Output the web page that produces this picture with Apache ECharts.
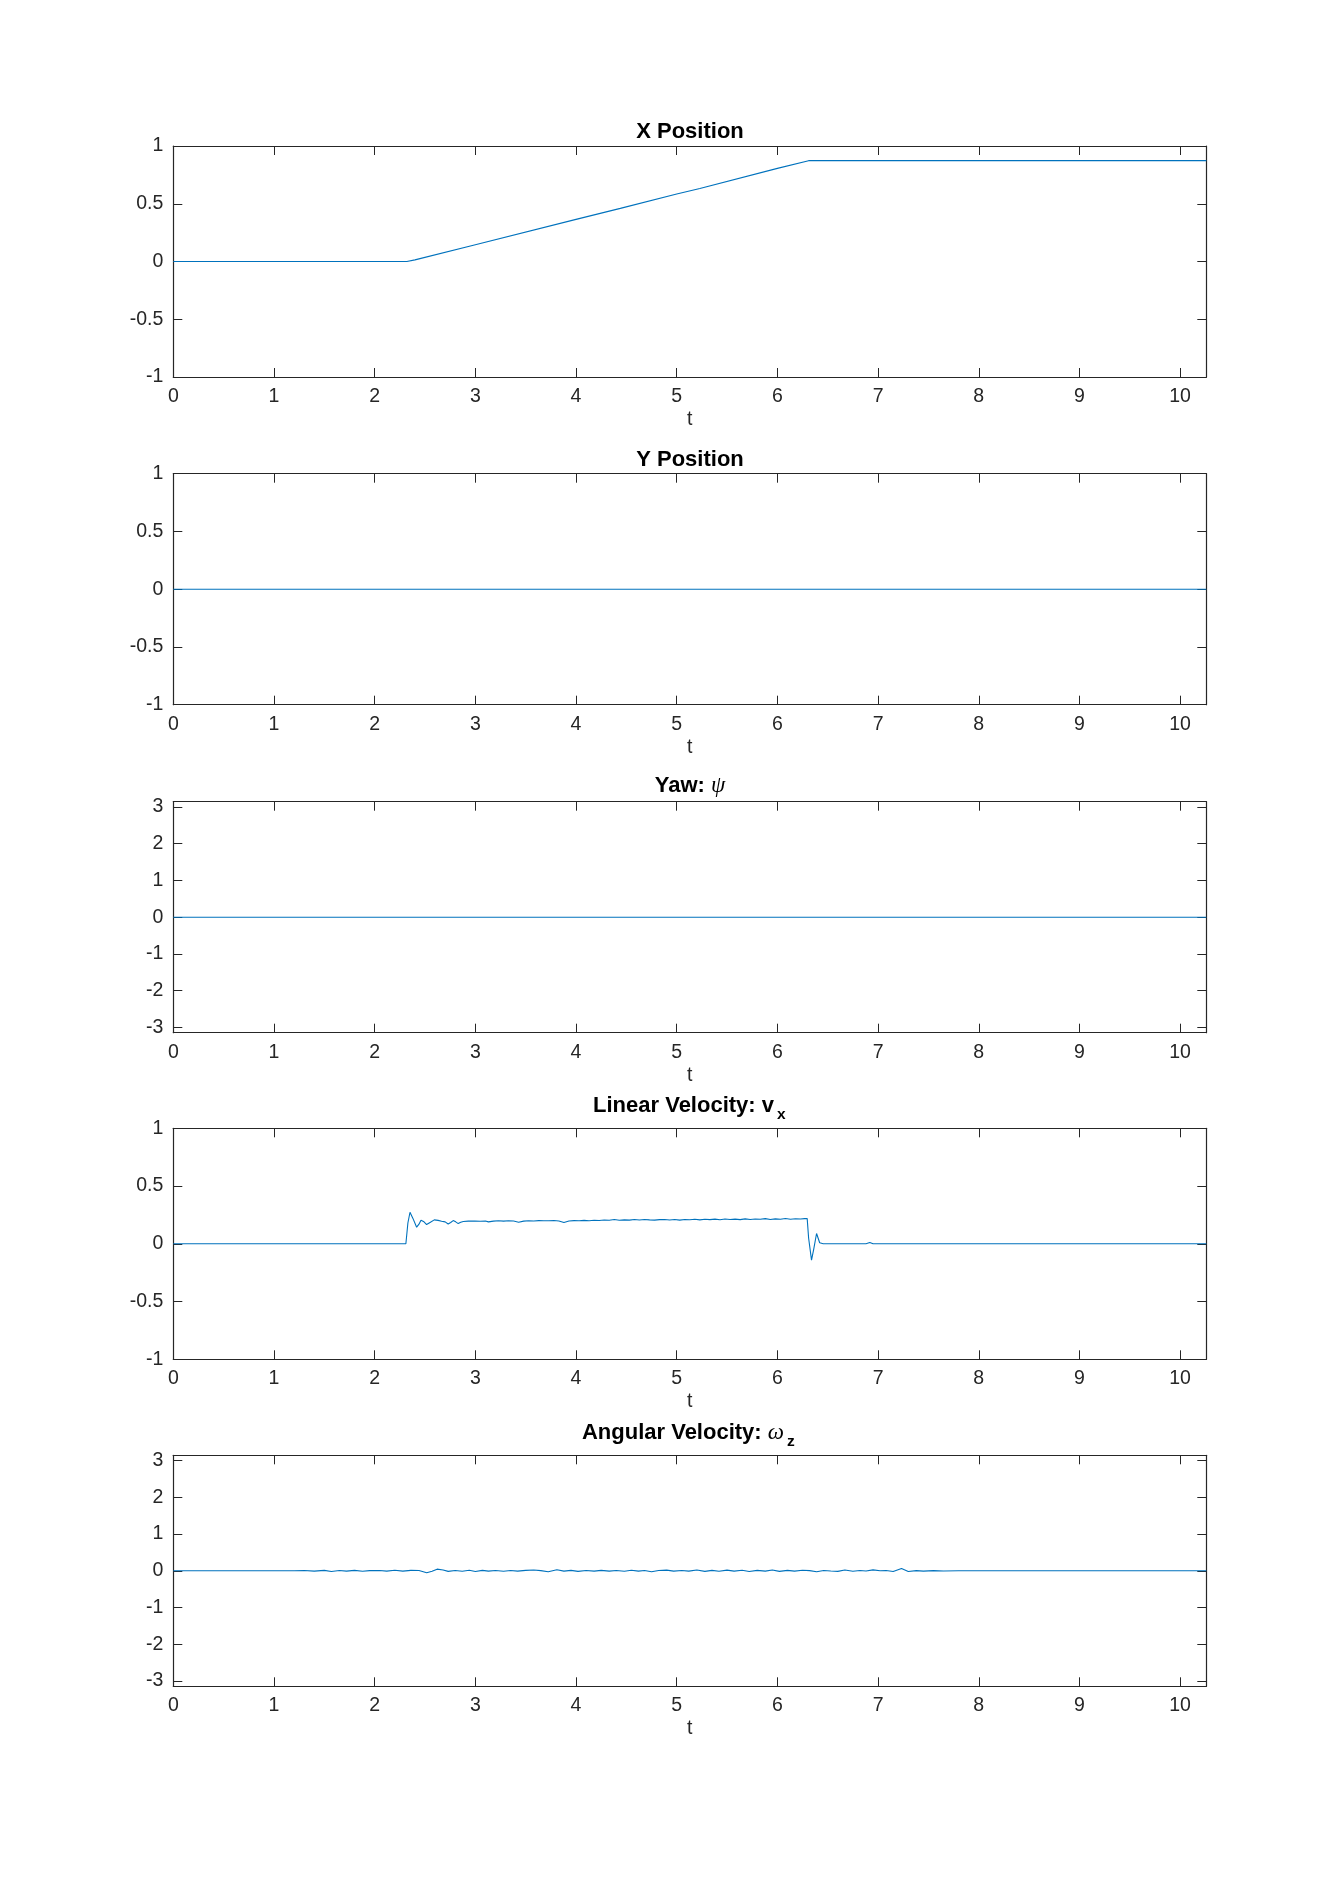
<!DOCTYPE html>
<html>
<head>
<meta charset="utf-8">
<script src="https://cdn.jsdelivr.net/npm/echarts@6/dist/echarts.min.js"></script>
<style>
html,body{margin:0;padding:0;background:#fff;}
#chart{width:1334px;height:1894px;}
</style>
</head>
<body>
<div id="chart"></div>
<script>
// ---------------- data ----------------
const tMax = 10.26;
const xTicks = [0, 1, 2, 3, 4, 5, 6, 7, 8, 9, 10];
const unitTicks = [-1, -0.5, 0, 0.5, 1];
const angleTicks = [-3, -2, -1, 0, 1, 2, 3];

const xPosData = [[0, 0], [2.32, 0], [2.4, 0.014], [3, 0.145], [4, 0.365], [4.44, 0.46], [5, 0.585], [5.23, 0.632], [6, 0.806], [6.31, 0.873], [10.26, 0.873]];
const yPosData = [[0, 0], [10.26, 0]];
const yawData = [[0, 0], [10.26, 0]];

const vxData = [
  [0, 0], [2.31, 0], [2.33, 0.18], [2.351, 0.273], [2.38, 0.22], [2.417, 0.144], [2.44, 0.17], [2.46, 0.204],
  [2.49, 0.19], [2.516, 0.167], [2.55, 0.185], [2.592, 0.207], [2.63, 0.203], [2.665, 0.195], [2.70, 0.19],
  [2.73, 0.172], [2.755, 0.185], [2.78, 0.201], [2.805, 0.19], [2.83, 0.175], [2.855, 0.186], [2.88, 0.193],
  [2.93, 0.196], [2.995, 0.198], [3.05, 0.195], [3.10, 0.197], [3.13, 0.19], [3.18, 0.196], [3.23, 0.199],
  [3.28, 0.196], [3.33, 0.2], [3.38, 0.197], [3.43, 0.187], [3.48, 0.196], [3.53, 0.2], [3.58, 0.198],
  [3.63, 0.201], [3.68, 0.199], [3.73, 0.2], [3.78, 0.202], [3.83, 0.198], [3.88, 0.184], [3.93, 0.198],
  [3.98, 0.201], [4.03, 0.2], [4.08, 0.203], [4.13, 0.2], [4.18, 0.204], [4.23, 0.202], [4.28, 0.206],
  [4.33, 0.204], [4.38, 0.21], [4.43, 0.204], [4.48, 0.207], [4.53, 0.205], [4.58, 0.21], [4.63, 0.206],
  [4.68, 0.21], [4.73, 0.207], [4.78, 0.205], [4.83, 0.209], [4.88, 0.211], [4.93, 0.206], [4.98, 0.21],
  [5.03, 0.205], [5.08, 0.211], [5.13, 0.208], [5.18, 0.213], [5.23, 0.207], [5.28, 0.212], [5.33, 0.209],
  [5.38, 0.214], [5.43, 0.208], [5.48, 0.215], [5.53, 0.21], [5.58, 0.214], [5.63, 0.209], [5.68, 0.216],
  [5.73, 0.211], [5.78, 0.215], [5.83, 0.212], [5.88, 0.218], [5.93, 0.21], [5.98, 0.216], [6.03, 0.212],
  [6.08, 0.219], [6.13, 0.213], [6.18, 0.217], [6.23, 0.215], [6.27, 0.218], [6.296, 0.218], [6.31, 0.05],
  [6.339, -0.141], [6.36, -0.05], [6.389, 0.089], [6.42, 0.009], [6.455, 0], [6.88, 0], [6.918, 0.012],
  [6.95, 0], [10.26, 0]
];

const wzData = [
  [0, 0], [1.2, 0], [1.3, 0.008], [1.4, -0.01], [1.5, 0.012], [1.57, -0.018], [1.65, 0.01], [1.72, -0.008],
  [1.8, 0.012], [1.88, -0.012], [1.95, 0.005], [2.05, 0.01], [2.12, -0.01], [2.2, 0.015], [2.28, -0.01],
  [2.36, 0.012], [2.44, 0.008], [2.517, -0.054], [2.57, -0.01], [2.62, 0.045], [2.68, 0.02], [2.73, -0.015],
  [2.8, 0.01], [2.87, -0.012], [2.94, 0.015], [3.0, -0.02], [3.07, 0.012], [3.13, -0.008], [3.2, 0.01],
  [3.28, -0.012], [3.35, 0.01], [3.42, -0.008], [3.5, 0.012], [3.58, 0.02], [3.65, 0.005], [3.724, -0.027],
  [3.81, 0.027], [3.88, -0.008], [3.95, 0.012], [4.02, -0.015], [4.1, 0.01], [4.18, -0.008], [4.25, 0.012],
  [4.33, -0.01], [4.4, 0.008], [4.48, -0.012], [4.55, 0.015], [4.62, -0.01], [4.68, 0.01], [4.75, -0.027],
  [4.82, 0.01], [4.9, 0.018], [4.97, -0.008], [5.05, 0.01], [5.12, -0.01], [5.2, 0.02], [5.28, -0.015],
  [5.35, 0.012], [5.42, -0.012], [5.5, 0.018], [5.57, -0.008], [5.65, 0.015], [5.72, -0.018], [5.8, 0.012],
  [5.88, -0.01], [5.95, 0.02], [6.02, -0.015], [6.1, 0.012], [6.17, -0.008], [6.25, 0.015], [6.32, 0.005],
  [6.39, -0.027], [6.46, 0.01], [6.53, -0.005], [6.6, -0.015], [6.67, 0.02], [6.75, -0.012], [6.82, 0.01],
  [6.88, -0.005], [6.95, 0.025], [7.02, 0.0], [7.08, 0.01], [7.15, -0.02], [7.233, 0.063], [7.3, -0.018],
  [7.38, 0.005], [7.45, -0.008], [7.55, 0.006], [7.65, -0.004], [7.8, 0.003], [8.0, 0], [10.26, 0]
];

// ---------------- layout ----------------
const FONT = 'Liberation Sans';
const AX = '#262626';
const LINE = '#0072BD';
const gridTops = [146, 473.7, 801.7, 1128.3, 1455.3];
const gridH = 231;
const plots = [
  {data: xPosData, min: -1, max: 1, ticks: unitTicks},
  {data: yPosData, min: -1, max: 1, ticks: unitTicks},
  {data: yawData, min: -Math.PI, max: Math.PI, ticks: angleTicks},
  {data: vxData, min: -1, max: 1, ticks: unitTicks},
  {data: wzData, min: -Math.PI, max: Math.PI, ticks: angleTicks}
];

const grid = [], xAxis = [], yAxis = [], series = [];
plots.forEach((p, i) => {
  grid.push({left: 173.3, right: 1334 - 1206.3, top: gridTops[i], height: gridH, containLabel: false});
  const lineCfg = {show: true, onZero: false, lineStyle: {color: AX, width: 1.2}};
  xAxis.push({
    type: 'value', gridIndex: i, position: 'bottom', min: 0, max: tMax,
    axisLine: lineCfg,
    axisTick: {show: true, inside: true, length: 9, customValues: xTicks, lineStyle: {color: AX, width: 1}},
    axisLabel: {show: true, customValues: xTicks, margin: 9.5, fontFamily: FONT, fontSize: 19.5, color: AX},
    splitLine: {show: false},
    name: 't', nameLocation: 'middle', nameGap: 32.5,
    nameTextStyle: {fontFamily: FONT, fontSize: 19.5, color: AX}
  });
  xAxis.push({
    type: 'value', gridIndex: i, position: 'top', min: 0, max: tMax,
    axisLine: lineCfg,
    axisTick: {show: true, inside: true, length: 9, customValues: xTicks, lineStyle: {color: AX, width: 1}},
    axisLabel: {show: false},
    splitLine: {show: false}
  });
  yAxis.push({
    type: 'value', gridIndex: i, position: 'left', min: p.min, max: p.max,
    axisLine: lineCfg,
    axisTick: {show: true, inside: true, length: 9, customValues: p.ticks, lineStyle: {color: AX, width: 1}},
    axisLabel: {show: true, customValues: p.ticks, margin: 10, fontFamily: FONT, fontSize: 19.5, color: AX},
    splitLine: {show: false}
  });
  yAxis.push({
    type: 'value', gridIndex: i, position: 'right', min: p.min, max: p.max,
    axisLine: lineCfg,
    axisTick: {show: true, inside: true, length: 9, customValues: p.ticks, lineStyle: {color: AX, width: 1}},
    axisLabel: {show: false},
    splitLine: {show: false}
  });
  series.push({
    type: 'line', xAxisIndex: 2 * i, yAxisIndex: 2 * i, data: p.data,
    showSymbol: false, symbol: 'none', clip: true,
    lineStyle: {color: LINE, width: 1.1}, animation: false
  });
});

const TS = 22;
const boldTitle = (text, x, y, align) => ({
  type: 'text', x: x, y: y, silent: true,
  style: {text: text, fill: '#000', fontFamily: FONT, fontWeight: 'bold', fontSize: TS,
          textAlign: align || 'center', textVerticalAlign: 'middle'}
});
const richTitle = (text, x, y, align) => ({
  type: 'text', x: x, y: y, silent: true,
  style: {
    text: text, fill: '#000', textAlign: align, textVerticalAlign: 'middle',
    rich: {
      b: {fontFamily: FONT, fontWeight: 'bold', fontSize: TS, fill: '#000'},
      g: {fontFamily: 'Liberation Serif', fontStyle: 'italic', fontSize: 23, fill: '#000'}
    }
  }
});
const subTitle = (text, x, y) => ({
  type: 'text', x: x, y: y, silent: true,
  style: {text: text, fill: '#000', fontFamily: FONT, fontWeight: 'bold', fontSize: 15.5,
          textAlign: 'left', textVerticalAlign: 'middle'}
});

const graphic = [
  boldTitle('X Position', 690, 131.5),
  boldTitle('Y Position', 690, 459.5),
  richTitle('{b|Yaw: }{g|ψ}', 690, 785.5, 'center'),
  boldTitle('Linear Velocity: v', 774, 1105.5, 'right'),
  subTitle('x', 777, 1115),
  richTitle('{b|Angular Velocity: }{g|ω}', 784, 1433, 'right'),
  subTitle('z', 787, 1442)
];

const chart = echarts.init(document.getElementById('chart'), null, {renderer: 'canvas'});
chart.setOption({
  animation: false,
  backgroundColor: '#fff',
  grid: grid,
  xAxis: xAxis,
  yAxis: yAxis,
  series: series,
  graphic: graphic
});
</script>
</body>
</html>
